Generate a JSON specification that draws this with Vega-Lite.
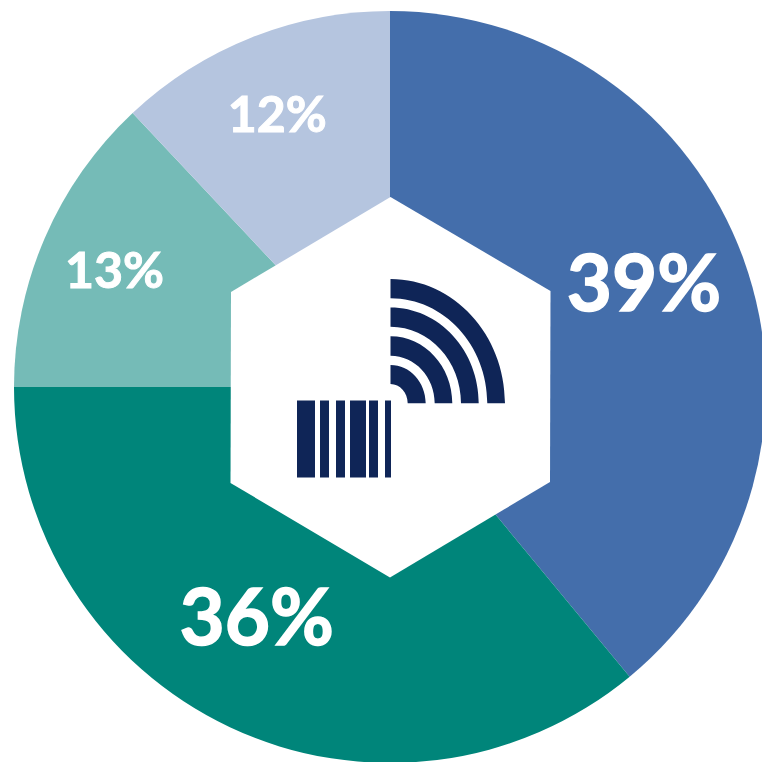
{
  "$schema": "https://vega.github.io/schema/vega-lite/v6.json",
  "width": 752,
  "height": 752,
  "autosize": "none",
  "padding": {"left": 14, "top": 11, "right": 0, "bottom": 0},
  "background": "#ffffff",
  "view": {"stroke": null},
  "data": {
    "values": [
      {"segment": "A", "pct": 39, "label": "39%", "rank": 1},
      {"segment": "B", "pct": 36, "label": "36%", "rank": 2},
      {"segment": "C", "pct": 13, "label": "13%", "rank": 3},
      {"segment": "D", "pct": 12, "label": "12%", "rank": 4}
    ]
  },
  "layer": [
    {
      "mark": {"type": "arc", "outerRadius": 376, "innerRadius": 0},
      "encoding": {
        "theta": {"field": "pct", "type": "quantitative", "stack": true, "scale": {"domain": [0, 100], "range": [0, 6.283185307]}},
        "order": {"field": "rank", "type": "ordinal"},
        "color": {
          "field": "segment",
          "type": "nominal",
          "legend": null,
          "scale": {"domain": ["A", "B", "C", "D"], "range": ["#446EAB", "#00857A", "#75BBB7", "#B5C5DF"]}
        }
      }
    },
    {
      "data": {"values": [{"glyph": "hexagon"}]},
      "mark": {
        "type": "point",
        "filled": true,
        "fill": "#ffffff",
        "opacity": 1,
        "strokeWidth": 0,
        "size": 4,
        "shape": "M0.5,-190L160.5,-96L160,95L0,190.5L-159.5,96L-159,-95Z"
      }
    },
    {
      "data": {"values": [{"glyph": "tag and signal"}]},
      "mark": {
        "type": "point",
        "filled": true,
        "fill": "#0F2557",
        "opacity": 1,
        "strokeWidth": 0,
        "size": 4,
        "shape": "M-93,13.5H-75V90.5H-93ZM-70,13.5H-61V90.5H-70ZM-54,13.5H-45V90.5H-54ZM-40,13.5H-24V90.5H-40ZM-21,13.5H-12V90.5H-21ZM-5,13.5H1V90.5H-5ZM0.5,-108A114.5,124.3 0 0 1 115,16.3H97.3A96.8,105 0 0 0 0.5,-88.7ZM0.5,-79.4A88.2,95.6 0 0 1 88.7,16.3H71A70.5,76.6 0 0 0 0.5,-60.3ZM0.5,-50.7A61.8,67 0 0 1 62.3,16.3H44.7A44.2,47.6 0 0 0 0.5,-31.3ZM0.5,-22A35.2,38.3 0 0 1 35.7,16.3H17.7A17.2,19.3 0 0 0 0.5,-3Z"
      }
    },
    {
      "mark": {"type": "text", "radius": 270, "dx": 0, "dy": -8, "font": "Lato", "fontWeight": "bold", "fontSize": 78, "fill": "#ffffff", "stroke": "#ffffff", "strokeWidth": 1.5, "align": "center", "baseline": "middle"},
      "encoding": {
        "theta": {"field": "pct", "type": "quantitative", "stack": true, "scale": {"domain": [0, 100], "range": [0, 6.283185307]}},
        "order": {"field": "rank", "type": "ordinal"},
        "text": {"condition": {"test": "datum.segment === 'A'", "field": "label", "type": "nominal"}, "value": ""}
      }
    },
    {
      "mark": {"type": "text", "radius": 266, "dx": -20, "dy": -6, "font": "Lato", "fontWeight": "bold", "fontSize": 78, "fill": "#ffffff", "stroke": "#ffffff", "strokeWidth": 1.5, "align": "center", "baseline": "middle"},
      "encoding": {
        "theta": {"field": "pct", "type": "quantitative", "stack": true, "scale": {"domain": [0, 100], "range": [0, 6.283185307]}},
        "order": {"field": "rank", "type": "ordinal"},
        "text": {"condition": {"test": "datum.segment === 'B'", "field": "label", "type": "nominal"}, "value": ""}
      }
    },
    {
      "mark": {"type": "text", "radius": 298, "dx": -2, "dy": 4, "font": "Lato", "fontWeight": "bold", "fontSize": 50, "fill": "#ffffff", "stroke": "#ffffff", "strokeWidth": 1, "align": "center", "baseline": "middle"},
      "encoding": {
        "theta": {"field": "pct", "type": "quantitative", "stack": true, "scale": {"domain": [0, 100], "range": [0, 6.283185307]}},
        "order": {"field": "rank", "type": "ordinal"},
        "text": {"condition": {"test": "datum.segment === 'C'", "field": "label", "type": "nominal"}, "value": ""}
      }
    },
    {
      "mark": {"type": "text", "radius": 293, "dx": -5, "dy": 2, "font": "Lato", "fontWeight": "bold", "fontSize": 50, "fill": "#ffffff", "stroke": "#ffffff", "strokeWidth": 1, "align": "center", "baseline": "middle"},
      "encoding": {
        "theta": {"field": "pct", "type": "quantitative", "stack": true, "scale": {"domain": [0, 100], "range": [0, 6.283185307]}},
        "order": {"field": "rank", "type": "ordinal"},
        "text": {"condition": {"test": "datum.segment === 'D'", "field": "label", "type": "nominal"}, "value": ""}
      }
    }
  ]
}
